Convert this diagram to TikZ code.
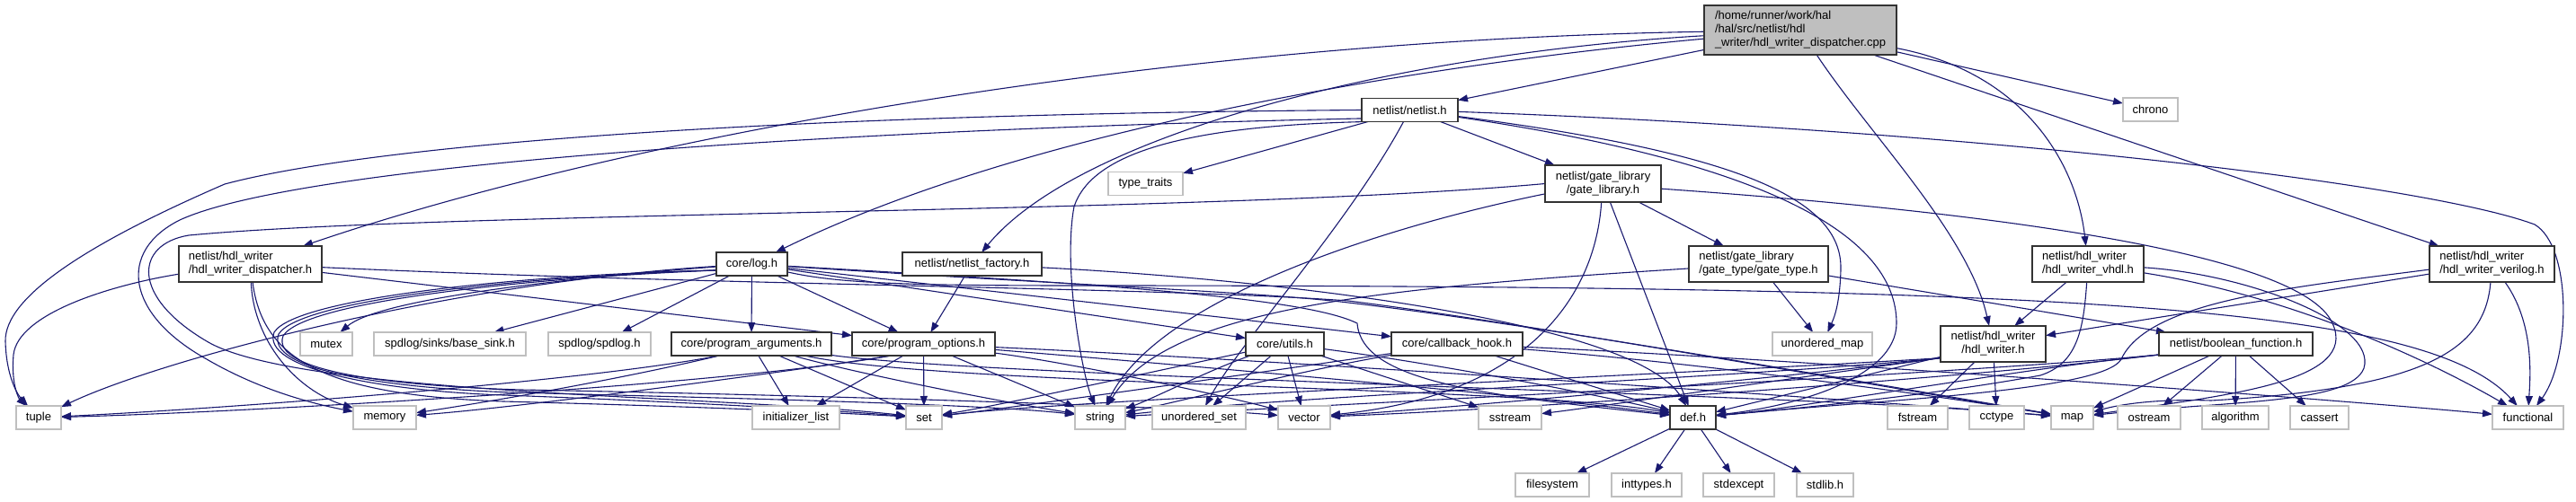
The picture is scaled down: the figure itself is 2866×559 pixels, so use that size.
\documentclass[tikz,border=0pt]{standalone}
\usepackage{fontspec}
\setmainfont{Liberation Sans}
\usetikzlibrary{arrows.meta}
\definecolor{edgeblue}{HTML}{191970}
\definecolor{extgray}{HTML}{BFBFBF}
\definecolor{rootfill}{HTML}{BFBFBF}
\definecolor{docline}{HTML}{333333}
\pgfdeclarelayer{bglayer}
\pgfdeclarelayer{edgelayer}
\pgfsetlayers{bglayer,edgelayer,main}
\newcommand\nodefont{\fontsize{13}{15}\selectfont}
\begin{document}
\begin{tikzpicture}[x=1pt,y=-1pt,
  box/.style={rectangle, inner sep=0pt, outer sep=0pt, line width=1.4pt, fill=white, font=\nodefont, minimum height=26pt, text=black},
  doc/.style={box, draw=docline},
  ext/.style={box, draw=extgray},
  rootbox/.style={box, draw=docline, fill=rootfill},
  e/.style={draw=edgeblue, line width=1.1pt, -{Triangle[length=11pt,width=8pt]}}
]
\useasboundingbox (0,0) rectangle (2866,559);
\begin{pgfonlayer}{bglayer}
\fill[white] (0,0) rectangle (2866,559);
\end{pgfonlayer}

% ---------- nodes ----------
\node[rootbox, minimum width=214pt, minimum height=55pt, align=left] (R) at (2003,33.5) {/home/runner/work/hal\\/hal/src/netlist/hdl\\\_writer/hdl\_writer\_dispatcher.cpp};
\node[doc, minimum width=107pt] (NL) at (1568.5,122.5) {netlist/netlist.h};
\node[ext, minimum width=61pt] (CH) at (2392.5,122) {chrono};
\node[ext, minimum width=83pt] (TT) at (1274.5,204.5) {type\_traits};
\node[doc, minimum width=129pt, minimum height=41pt, align=center] (GL) at (1783.5,204.5) {netlist/gate\_library\\/gate\_library.h};

\node[doc, minimum width=159pt, minimum height=40pt, align=left] (DH) at (278.5,294) {netlist/hdl\_writer\\/hdl\_writer\_dispatcher.h};
\node[doc, minimum width=79pt] (LOG) at (836.5,294) {core/log.h};
\node[doc, minimum width=155pt] (NF) at (1081.5,294) {netlist/netlist\_factory.h};
\node[doc, minimum width=155pt, minimum height=40pt, align=left] (GT) at (1956.5,294) {netlist/gate\_library\\/gate\_type/gate\_type.h};
\node[doc, minimum width=124pt, minimum height=40pt, align=left] (VH) at (2323,294) {netlist/hdl\_writer\\/hdl\_writer\_vhdl.h};
\node[doc, minimum width=139pt, minimum height=40pt, align=left] (VE) at (2772.5,294) {netlist/hdl\_writer\\/hdl\_writer\_verilog.h};

\node[ext, minimum width=58pt] (MU) at (363,383) {mutex};
\node[ext, minimum width=169pt] (BS) at (500.5,383) {spdlog/sinks/base\_sink.h};
\node[ext, minimum width=114pt] (SP) at (667,383) {spdlog/spdlog.h};
\node[doc, minimum width=178pt] (PA) at (836,383) {core/program\_arguments.h};
\node[doc, minimum width=159pt] (PO) at (1027.5,383) {core/program\_options.h};
\node[doc, minimum width=87pt] (UT) at (1429.5,383) {core/utils.h};
\node[doc, minimum width=146pt] (CB) at (1621,383) {core/callback\_hook.h};
\node[ext, minimum width=111pt] (UM) at (2027.5,383) {unordered\_map};
\node[doc, minimum width=117pt, minimum height=40pt, align=center] (HW) at (2217.5,383) {netlist/hdl\_writer\\/hdl\_writer.h};
\node[doc, minimum width=171pt] (BF) at (2487.5,383) {netlist/boolean\_function.h};

\node[ext, minimum width=50pt] (TU) at (43,465) {tuple};
\node[ext, minimum width=70pt] (ME) at (428,465) {memory};
\node[ext, minimum width=97pt] (IL) at (885.5,465) {initializer\_list};
\node[ext, minimum width=40pt] (SE) at (1028,465) {set};
\node[ext, minimum width=56pt] (ST) at (1224,465) {string};
\node[ext, minimum width=104pt] (US) at (1334,465) {unordered\_set};
\node[ext, minimum width=58pt] (VC) at (1451,465) {vector};
\node[ext, minimum width=70pt] (SS) at (1680,465) {sstream};
\node[doc, minimum width=51pt] (DEF) at (1883.5,465) {def.h};
\node[ext, minimum width=67pt] (FS) at (2133.5,465) {fstream};
\node[ext, minimum width=61pt] (CC) at (2221.5,465) {cctype};
\node[ext, minimum width=47pt] (MAP) at (2305.5,465) {map};
\node[ext, minimum width=70pt] (OS) at (2391,465) {ostream};
\node[ext, minimum width=74pt] (AL) at (2487,465) {algorithm};
\node[ext, minimum width=65pt] (CA) at (2580.5,465) {cassert};
\node[ext, minimum width=79pt] (FN) at (2812.5,465) {functional};

\node[ext, minimum width=82pt] (FSY) at (1727,540) {filesystem};
\node[ext, minimum width=78pt] (IT) at (1832,540) {inttypes.h};
\node[ext, minimum width=79pt] (SX) at (1934.5,540) {stdexcept};
\node[ext, minimum width=63pt] (SL) at (2030.5,540) {stdlib.h};

% ---------- edges ----------
\begin{pgfonlayer}{edgelayer}
% root
\draw[e] (R) -- (NL);
\draw[e] (R) -- (CH);
\draw[e] (R) .. controls (1600,70) and (1150,140) .. (LOG);
\draw[e] (R) .. controls (1550,60) and (1200,150) .. (NF);
\draw[e] (R) .. controls (1300,45) and (700,150) .. (DH);
\draw[e] (R) .. controls (2250,80) and (2310,180) .. (VH);
\draw[e] (R) -- (VE);
\draw[e] (R) .. controls (2080,150) and (2190,260) .. (HW);
% netlist.h
\draw[e] (NL) -- (TT);
\draw[e] (NL) -- (GL);
\draw[e] (NL.west) .. controls (800,128) and (400,165) .. (250,205) .. controls (100,270) and (5,330) .. (6,380) .. controls (7,420) and (20,440) .. (TU);
\draw[e] (NL.190) .. controls (900,145) and (330,185) .. (200,245) .. controls (130,280) and (140,350) .. (230,400) .. controls (290,435) and (350,450) .. (ME);
\draw[e] (NL.195) .. controls (1320,140) and (1215,170) .. (1195,230) .. controls (1182,300) and (1205,420) .. (ST);
\draw[e] (NL) .. controls (1500,250) and (1380,380) .. (US);
\draw[e] (NL) .. controls (1930,170) and (2050,220) .. (2048,300) .. controls (2047,340) and (2040,355) .. (UM);
\draw[e] (NL) .. controls (1960,180) and (2110,260) .. (2110,360) .. controls (2110,420) and (2000,452) .. (DEF);
\draw[e] (NL) .. controls (2200,145) and (2700,205) .. (2820,250) .. controls (2862,275) and (2860,400) .. (FN);
% gate_library.h
\draw[e] (GL) -- (GT);
\draw[e] (GL) -- (DEF);
\draw[e] (GL.265) .. controls (1775,330) and (1700,440) .. (VC);
\draw[e] (GL.190) .. controls (1550,250) and (1290,330) .. (ST);
\draw[e] (GL.west) .. controls (1350,238) and (500,235) .. (210,262) .. controls (150,272) and (145,330) .. (230,380) .. controls (330,440) and (800,440) .. (SE);
\draw[e] (GL.-5) .. controls (2200,235) and (2560,280) .. (2595,360) .. controls (2625,425) and (2480,440) .. (MAP);
% gate_type.h
\draw[e] (GT) -- (UM);
\draw[e] (GT) -- (BF);
\draw[e] (GT) .. controls (1550,320) and (1300,340) .. (ST);
% hdl_writer.h
\draw[e] (HW) -- (FS);
\draw[e] (HW) -- (CC);
\draw[e] (HW) -- (DEF);
\draw[e] (HW.195) .. controls (1950,420) and (1450,440) .. (ST);
\draw[e] (HW.195) .. controls (1950,425) and (1600,455) .. (VC);
\draw[e] (HW.195) .. controls (2000,420) and (1800,450) .. (SS);
\draw[e] (HW.195) .. controls (1900,415) and (1200,445) .. (SE);
% hdl_writer_vhdl.h
\draw[e] (VH) -- (HW);
\draw[e] (VH) .. controls (2318,370) and (2310,405) .. (2270,418) .. controls (2150,440) and (2000,455) .. (DEF);
\draw[e] (VH) .. controls (2550,330) and (2700,400) .. (FN);
\draw[e] (VH) .. controls (2500,305) and (2645,360) .. (2630,410) .. controls (2615,450) and (2480,446) .. (MAP);
% hdl_writer_verilog.h
\draw[e] (VE) -- (HW);
\draw[e] (VE.185) .. controls (2550,320) and (2390,335) .. (2360,400) .. controls (2340,435) and (2100,445) .. (DEF);
\draw[e] (VE) .. controls (2765,390) and (2700,432) .. (2460,446) .. controls (2400,444) and (2360,450) .. (MAP);
\draw[e] (VE) .. controls (2820,360) and (2815,420) .. (FN);
% boolean_function.h
\draw[e] (BF) -- (MAP);
\draw[e] (BF) -- (OS);
\draw[e] (BF) -- (AL);
\draw[e] (BF) -- (CA);
\draw[e] (BF.188) .. controls (2250,410) and (2000,455) .. (DEF);
\draw[e] (BF.188) .. controls (2200,415) and (1500,450) .. (ST);
\draw[e] (BF.188) .. controls (2200,420) and (1700,455) .. (VC);
% core/log.h
\draw[e] (LOG) .. controls (600,312) and (420,335) .. (MU);
\draw[e] (LOG) -- (BS);
\draw[e] (LOG) -- (SP);
\draw[e] (LOG) -- (PA);
\draw[e] (LOG) -- (PO);
\draw[e] (LOG) -- (UT);
\draw[e] (LOG) -- (CB);
\draw[e] (LOG) .. controls (1200,315) and (1450,330) .. (1510,360) .. controls (1515,425) and (1650,440) .. (DEF);
\draw[e] (LOG) .. controls (1200,318) and (1400,325) .. (1500,337) .. controls (1700,360) and (2100,430) .. (MAP);
\draw[e] (LOG) .. controls (930,315) and (1000,318) .. (1200,318) .. controls (2300,318) and (2700,340) .. (FN);
\draw[e] (LOG) .. controls (500,315) and (180,400) .. (TU);
\draw[e] (LOG.190) .. controls (600,305) and (330,330) .. (305,370) .. controls (290,410) and (420,435) .. (560,440) .. controls (700,445) and (900,455) .. (SE);
\draw[e] (LOG.190) .. controls (600,307) and (335,332) .. (310,372) .. controls (295,412) and (430,432) .. (570,437) .. controls (800,443) and (1100,450) .. (ST);
\draw[e] (LOG.190) .. controls (600,309) and (340,334) .. (315,374) .. controls (300,414) and (440,430) .. (580,434) .. controls (900,440) and (1300,452) .. (VC);
% core/program_arguments.h
\draw[e] (PA) -- (IL);
\draw[e] (PA) -- (SE);
\draw[e] (PA.200) .. controls (700,420) and (560,445) .. (ME);
\draw[e] (PA.200) .. controls (650,425) and (250,455) .. (TU);
\draw[e] (PA) .. controls (950,415) and (1100,445) .. (ST);
\draw[e] (PA) .. controls (1050,430) and (1700,430) .. (DEF);
\draw[e] (PA) .. controls (1100,420) and (2000,438) .. (MAP);
% core/program_options.h
\draw[e] (PO) -- (SE);
\draw[e] (PO) -- (ST);
\draw[e] (PO) -- (IL);
\draw[e] (PO.200) .. controls (800,425) and (560,455) .. (ME);
\draw[e] (PO.200) .. controls (800,430) and (250,460) .. (TU);
\draw[e] (PO) .. controls (1300,405) and (1700,440) .. (DEF);
\draw[e] (PO) .. controls (1400,400) and (2000,440) .. (MAP);
\draw[e] (PO) .. controls (1200,405) and (1380,445) .. (VC);
% core/utils.h
\draw[e] (UT) .. controls (1300,410) and (1120,450) .. (SE);
\draw[e] (UT) .. controls (1350,410) and (1280,445) .. (ST);
\draw[e] (UT) -- (US);
\draw[e] (UT) -- (VC);
\draw[e] (UT) -- (SS);
\draw[e] (UT) .. controls (1600,405) and (1780,440) .. (DEF);
% core/callback_hook.h
\draw[e] (CB) .. controls (1450,412) and (1300,450) .. (ST);
\draw[e] (CB) .. controls (1400,415) and (1120,455) .. (SE);
\draw[e] (CB) -- (DEF);
\draw[e] (CB) .. controls (1900,405) and (2150,440) .. (MAP);
\draw[e] (CB) .. controls (2000,400) and (2600,445) .. (FN);
% netlist_factory.h
\draw[e] (NF) -- (PO);
\draw[e] (NF) .. controls (1400,310) and (1820,355) .. (DEF);
% hdl_writer_dispatcher.h
\draw[e] (DH.188) .. controls (120,318) and (20,350) .. (15,395) .. controls (12,430) and (22,445) .. (TU);
\draw[e] (DH) .. controls (282,380) and (330,435) .. (ME);
\draw[e] (DH) -- (PO);
\draw[e] (DH) .. controls (800,318) and (1300,320) .. (1500,335) .. controls (1700,360) and (2100,432) .. (MAP);
\draw[e] (DH) .. controls (292,400) and (360,440) .. (560,447) .. controls (750,452) and (900,458) .. (SE);
% def.h
\draw[e] (DEF) -- (FSY);
\draw[e] (DEF) -- (IT);
\draw[e] (DEF) -- (SX);
\draw[e] (DEF) -- (SL);
\end{pgfonlayer}
\end{tikzpicture}
\end{document}
